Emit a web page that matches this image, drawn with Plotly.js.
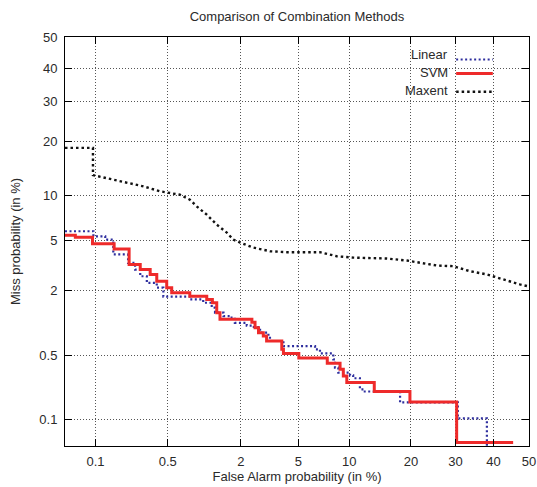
<!DOCTYPE html>
<html><head><meta charset="utf-8">
<script src="https://cdn.plot.ly/plotly-3.0.1.min.js"></script>
<style>html,body{margin:0;padding:0;background:#fff}#chart{width:537px;height:487px}</style>
</head><body><div id="chart"></div>
<script>
// Tick positions (percent) and labels
const tickPercents = [0.1, 0.5, 2, 5, 10, 20, 30, 40, 50];
const tickLabels = ['0.1', '0.5', '2', '5', '10', '20', '30', '40', '50'];
const axisMinPercent = 0.047;
const axisMaxPercent = 50;

// Linear (step curve: each point starts a new level)
const linearFA   = [0.047, 0.095, 0.126, 0.152, 0.213, 0.249, 0.279, 0.322, 0.398, 0.457, 0.78, 1.01, 1.185, 1.26, 1.47, 1.65, 1.80, 2.21, 2.41, 2.76, 3.16, 3.24, 4.0, 6.36, 6.81, 8.15, 8.33, 8.7, 10.1, 10.5, 11.4, 11.9, 17.9, 30.6, 38.2];
const linearMiss = [5.81, 5.35, 5.07, 3.93, 3.39, 3.0, 2.65, 2.34, 2.13, 1.79, 1.69, 1.58, 1.43, 1.29, 1.20, 1.16, 1.04, 0.98, 0.95, 0.84, 0.75, 0.697, 0.62, 0.577, 0.525, 0.457, 0.375, 0.332, 0.311, 0.289, 0.219, 0.207, 0.156, 0.102, 0.04];

// SVM (step curve)
const svmFA   = [0.047, 0.061, 0.093, 0.155, 0.218, 0.279, 0.346, 0.398, 0.49, 0.543, 0.78, 1.08, 1.20, 1.30, 1.38, 2.41, 2.54, 2.69, 2.91, 3.07, 3.90, 4.00, 5.04, 7.52, 8.9, 9.28, 9.70, 13.5, 19.8, 30.3, 45.5];
const svmMiss = [5.44, 5.26, 4.72, 4.33, 3.29, 3.00, 2.74, 2.41, 2.13, 1.93, 1.80, 1.69, 1.58, 1.29, 1.12, 1.055, 0.936, 0.84, 0.778, 0.697, 0.577, 0.525, 0.471, 0.416, 0.36, 0.305, 0.26, 0.207, 0.158, 0.052, 0.052];

// Maxent
const maxentFA   = [0.047, 0.094, 0.094, 0.152, 0.207, 0.299, 0.427, 0.525, 0.642, 0.782, 0.892, 1.08, 1.30, 1.56, 1.75, 1.97, 2.46, 3.24, 4.21, 6.81, 8.52, 10.5, 15.5, 19.2, 21.9, 25.5, 29.4, 33.7, 38.2, 42.7, 47.4, 50];
const maxentMiss = [18.5, 18.5, 13.2, 12.4, 11.98, 11.35, 10.6, 10.36, 10.1, 9.4, 8.53, 7.54, 6.46, 5.68, 5.07, 4.82, 4.43, 4.16, 4.09, 4.09, 3.81, 3.72, 3.66, 3.53, 3.40, 3.23, 3.19, 2.91, 2.74, 2.49, 2.27, 2.18];

const seriesNames = ['Linear', 'SVM', 'Maxent'];
const seriesColors = ['#2e2e9e', '#ee2a2a', '#111111'];

// Inverse standard normal CDF (Acklam)
function probit(p) {
  const a = [-3.969683028665376e+01, 2.209460984245205e+02, -2.759285104469687e+02, 1.383577518672690e+02, -3.066479806614716e+01, 2.506628277459239e+00];
  const b = [-5.447609879822406e+01, 1.615858368580409e+02, -1.556989798598866e+02, 6.680131188771972e+01, -1.328068155288572e+01];
  const c = [-7.784894002430293e-03, -3.223964580411365e-01, -2.400758277161838e+00, -2.549732539343734e+00, 4.374664141464968e+00, 2.938163982698783e+00];
  const d = [7.784695709041462e-03, 3.224671290700398e-01, 2.445134137142996e+00, 3.754408661907416e+00];
  const plow = 0.02425, phigh = 1 - plow;
  let q, r;
  if (p < plow) {
    q = Math.sqrt(-2 * Math.log(p));
    return (((((c[0]*q+c[1])*q+c[2])*q+c[3])*q+c[4])*q+c[5]) / ((((d[0]*q+d[1])*q+d[2])*q+d[3])*q+1);
  } else if (p <= phigh) {
    q = p - 0.5; r = q*q;
    return (((((a[0]*r+a[1])*r+a[2])*r+a[3])*r+a[4])*r+a[5])*q / (((((b[0]*r+b[1])*r+b[2])*r+b[3])*r+b[4])*r+1);
  } else {
    q = Math.sqrt(-2 * Math.log(1 - p));
    return -(((((c[0]*q+c[1])*q+c[2])*q+c[3])*q+c[4])*q+c[5]) / ((((d[0]*q+d[1])*q+d[2])*q+d[3])*q+1);
  }
}
const z = arr => arr.map(v => probit(v / 100));

const traces = [
  {x: z(linearFA), y: z(linearMiss), mode: 'lines', name: seriesNames[0], line: {shape: 'hv', color: seriesColors[0], width: 2.2, dash: '2px,2.5px'}},
  {x: z(svmFA), y: z(svmMiss), mode: 'lines', name: seriesNames[1], line: {shape: 'hv', color: seriesColors[1], width: 3}},
  {x: z(maxentFA), y: z(maxentMiss), mode: 'lines', name: seriesNames[2], line: {color: seriesColors[2], width: 2.4, dash: '2.5px,3px'}}
];

const font = {family: 'Liberation Sans, Arial, sans-serif', size: 13, color: '#2a2a2a'};
const axisCommon = {
  range: [probit(axisMinPercent / 100), probit(axisMaxPercent / 100)],
  tickmode: 'array', tickvals: z(tickPercents), ticktext: tickLabels,
  ticks: 'inside', ticklen: 7, tickcolor: '#000', tickwidth: 1,
  showline: true, linecolor: '#000', linewidth: 1, mirror: 'ticks',
  showgrid: true, gridcolor: '#555', gridwidth: 1, griddash: '1px,2px',
  zeroline: false, tickfont: font
};

// Legend drawn gnuplot-style (text left, sample right)
const legY = [0.958, 0.913, 0.869];
const legLineY = [0.945, 0.911, 0.866];
const annotations = seriesNames.map((n, i) => ({
  text: n, xref: 'paper', yref: 'paper', x: 0.830, y: legY[i], xanchor: 'right', yanchor: 'middle',
  showarrow: false, font: font
}));
const shapes = seriesNames.map((n, i) => ({
  type: 'line', xref: 'paper', yref: 'paper', x0: 0.843, x1: 0.922, y0: legLineY[i], y1: legLineY[i],
  line: traces[i].line.dash ? {color: seriesColors[i], width: traces[i].line.width, dash: traces[i].line.dash} : {color: seriesColors[i], width: 3}
}));

const layout = {
  width: 537, height: 487,
  margin: {l: 65, r: 8, t: 37, b: 41},
  paper_bgcolor: '#fff', plot_bgcolor: '#fff',
  showlegend: false,
  font: font,
  title: {text: 'Comparison of Combination Methods', font: font, xref: 'paper', x: 0.5, xanchor: 'center', yref: 'container', y: 0.967, yanchor: 'middle'},
  xaxis: Object.assign({}, axisCommon, {ticklabelstandoff: 3, title: {text: 'False Alarm probability (in %)', font: font, standoff: 4}}),
  yaxis: Object.assign({}, axisCommon, {ticklabelstandoff: 4, title: {text: 'Miss probability (in %)', font: font, standoff: 15}}),
  annotations: annotations,
  shapes: shapes
};

Plotly.newPlot('chart', traces, layout, {staticPlot: true, displayModeBar: false});
</script>
</body></html>
